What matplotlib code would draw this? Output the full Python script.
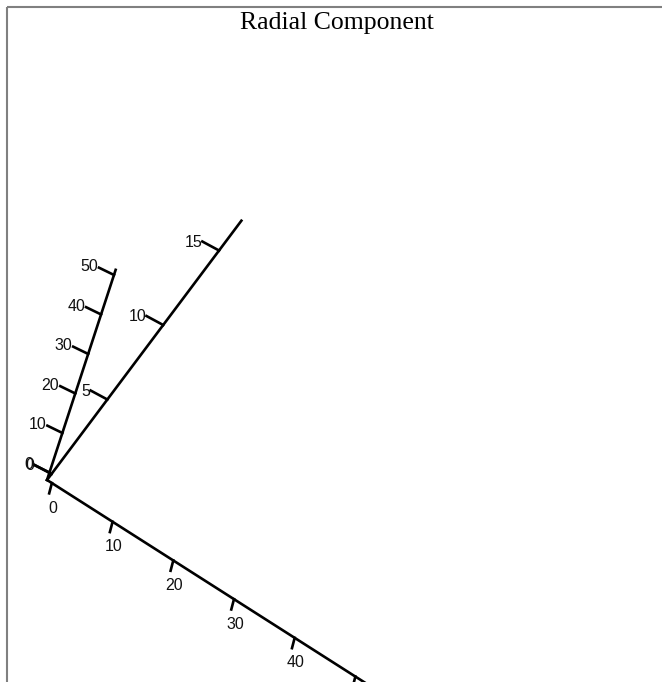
import numpy as np
import matplotlib
matplotlib.use("Agg")
import matplotlib.pyplot as plt

# axis ranges and tick values
x_range = [-0.8, 56]
y_range = [-0.4, 17.0]
z_range = [-1.9, 51.3]
x_ticks = [0, 10, 20, 30, 40, 50]
y_ticks = [0, 5, 10, 15]
z_ticks = [0, 10, 20, 30, 40, 50]
title = "Radial Component"

# screen projection (pixels), orthographic view
origin = np.array([58.8, 469.6])
ex = np.array([6.07, 3.87])
ey = np.array([11.17, -14.9])
ez = np.array([1.29, -3.95])

W, H = 662, 682


def proj(x, y, z):
    return origin + x * ex + y * ey + z * ez


fig = plt.figure(figsize=(W / 100, H / 100), dpi=100)
ax = fig.add_axes([0, 0, 1, 1])
ax.set_xlim(0, W)
ax.set_ylim(H, 0)
ax.axis("off")

# frame lines (left and top only)
ax.plot([7, 7], [H, 7], color="#808080", lw=1.5, solid_capstyle="butt")
ax.plot([7, W], [7, 7], color="#808080", lw=1.5, solid_capstyle="butt")

ax.text(337, 23, title, ha="center", va="center", fontsize=18.5,
        family="Liberation Serif")

x0, y0, z0 = x_range[0], y_range[0], z_range[0]
lw = 1.9
tick_font = dict(fontsize=11.5, family="Liberation Sans", color="#111111")

# x axis
a, b = proj(x_range[0], y0, z0), proj(x_range[1], y0, z0)
ax.plot([a[0], b[0]], [a[1], b[1]], color="black", lw=lw)
for t in x_ticks:
    p = proj(t, y0, z0)
    q = p + np.array([-2.7, 10.3])
    ax.plot([p[0], q[0]], [p[1], q[1]], color="black", lw=lw)
    if p[1] + 32 < H:
        ax.text(p[0] + 1, p[1] + 25, str(t), ha="center", va="center", **tick_font)

# y axis
a, b = proj(x0, y_range[0], z0), proj(x0, y_range[1], z0)
ax.plot([a[0], b[0]], [a[1], b[1]], color="black", lw=lw)
for t in y_ticks:
    p = proj(x0, t, z0)
    q = p + np.array([-16.7, -9.0])
    ax.plot([p[0], q[0]], [p[1], q[1]], color="black", lw=lw)
    ax.text(p[0] - 17, p[1] - 8.5, str(t), ha="right", va="center", **tick_font)

# z axis
a, b = proj(x0, y0, z_range[0]), proj(x0, y0, z_range[1])
ax.plot([a[0], b[0]], [a[1], b[1]], color="black", lw=lw)
for t in z_ticks:
    p = proj(x0, y0, t)
    q = p + np.array([-15.0, -7.3])
    ax.plot([p[0], q[0]], [p[1], q[1]], color="black", lw=lw)
    ax.text(p[0] - 16, p[1] - 8, str(t), ha="right", va="center", **tick_font)

fig.savefig("out.png", dpi=100, facecolor="white")
